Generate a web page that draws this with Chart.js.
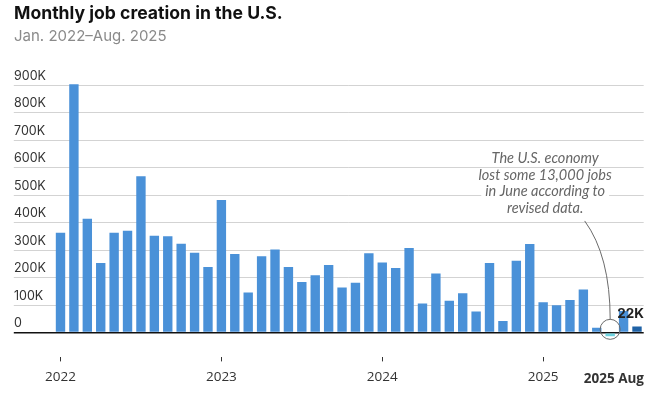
<!DOCTYPE html>
<html>
<head>
<meta charset="utf-8">
<script src="https://cdn.jsdelivr.net/npm/chart.js@4.4.1/dist/chart.umd.min.js"></script>
<style>
  html, body { margin: 0; padding: 0; background: #fff; }
  #wrap { width: 653px; height: 399px; position: relative; }
</style>
</head>
<body>
<div id="wrap"><canvas id="jobsChart"></canvas></div>
<script>
// Monthly change in payrolls, in thousands
const months = [
  'Jan 2022', 'Feb 2022', 'Mar 2022', 'Apr 2022', 'May 2022', 'Jun 2022', 'Jul 2022', 'Aug 2022', 'Sep 2022', 'Oct 2022', 'Nov 2022', 'Dec 2022',
  'Jan 2023', 'Feb 2023', 'Mar 2023', 'Apr 2023', 'May 2023', 'Jun 2023', 'Jul 2023', 'Aug 2023', 'Sep 2023', 'Oct 2023', 'Nov 2023', 'Dec 2023',
  'Jan 2024', 'Feb 2024', 'Mar 2024', 'Apr 2024', 'May 2024', 'Jun 2024', 'Jul 2024', 'Aug 2024', 'Sep 2024', 'Oct 2024', 'Nov 2024', 'Dec 2024',
  'Jan 2025', 'Feb 2025', 'Mar 2025', 'Apr 2025', 'May 2025', 'Jun 2025', 'Jul 2025', 'Aug 2025'
];
const jobsK = [
  363, 903, 414, 253, 363, 370, 568, 352, 350, 323, 290, 239,
  482, 286, 146, 278, 302, 239, 184, 209, 246, 164, 181, 289,
  255, 235, 308, 106, 215, 116, 143, 77, 253, 42, 261, 322,
  110, 100, 119, 157, 18, -13, 79, 22
];
const yTicks = [0, 100, 200, 300, 400, 500, 600, 700, 800, 900];
const noteLines = ['The U.S. economy', 'lost some 13,000 jobs', 'in June according to', 'revised data.'];
const latestLabel = '2025 Aug';
const latestValueLabel = '22K';

const JUNE = months.indexOf('Jun 2025');
const LAST = months.length - 1;

const BLUE = '#4a91d8';
const barColors = jobsK.map((v, i) => i === JUNE ? '#6dd2de' : (i === LAST ? '#1f62a6' : BLUE));

// annotation, the circled June bar and the latest value
const notePlugin = {
  id: 'notes',
  afterDraw(chart) {
    const { ctx } = chart;
    const xs = chart.scales.x, ys = chart.scales.y;
    const xJune = xs.getPixelForValue(JUNE);
    const xLast = xs.getPixelForValue(LAST);
    const y0 = ys.getPixelForValue(0);

    ctx.save();
    // note text with white boxes behind (hides the gridlines)
    ctx.font = 'italic 14.5px Lato';
    ctx.textAlign = 'center';
    ctx.textBaseline = 'alphabetic';
    const cx = xJune - 65;
    const firstBase = ys.getPixelForValue(615000);
    noteLines.forEach((t, i) => {
      const y = firstBase + i * 16.5;
      const w = ctx.measureText(t).width;
      ctx.fillStyle = '#fff';
      ctx.fillRect(cx - w / 2 - 4, y - 11, w + 8, 14);
      ctx.fillStyle = '#666';
      ctx.fillText(t, cx, y);
    });

    // curved leader line down to the circle
    const r = 10;
    const cy = ys.getPixelForValue(12000);
    const startY = firstBase + 3 * 16.5 + 8;
    ctx.strokeStyle = '#6a6a6a';
    ctx.lineWidth = 1;
    ctx.beginPath();
    ctx.moveTo(cx + 39.5, startY);
    ctx.quadraticCurveTo(xJune, startY + 35, xJune, cy - r);
    ctx.stroke();

    ctx.beginPath();
    ctx.arc(xJune, cy, r, 0, Math.PI * 2);
    ctx.stroke();

    // latest value
    ctx.font = 'bold 13.5px Inter';
    ctx.textAlign = 'right';
    ctx.fillStyle = '#222';
    ctx.fillText(latestValueLabel, xLast + 7, y0 - 15);

    // last x label, on the same line as the year labels
    ctx.font = 'bold 13.5px "Open Sans"';
    ctx.fillStyle = '#333';
    ctx.fillText(latestLabel, xLast + 7, y0 + 50);
    ctx.restore();
  }
};

new Chart(document.getElementById('jobsChart'), {
  type: 'bar',
  data: {
    labels: months,
    datasets: [{
      data: jobsK.map(v => v * 1000),
      backgroundColor: barColors,
      borderWidth: 0,
      barPercentage: 0.7,
      categoryPercentage: 1.0
    }]
  },
  options: {
    responsive: true,
    maintainAspectRatio: false,
    animation: false,
    layout: { padding: { left: 14, right: 9.3, top: 0, bottom: 6 } },
    plugins: {
      legend: { display: false },
      tooltip: { enabled: false },
      title: {
        display: true,
        text: 'Monthly job creation in the U.S.',
        align: 'start',
        color: '#111',
        font: { family: 'Inter', size: 17.6, weight: 'bold', lineHeight: 1.2 },
        padding: { top: 3.2, bottom: 3.3 }
      },
      subtitle: {
        display: true,
        text: 'Jan. 2022\u2013Aug. 2025',
        align: 'start',
        color: '#8a8a8a',
        font: { family: 'Inter', size: 15, lineHeight: 1.2 },
        padding: { top: 0, bottom: 33.9 }
      }
    },
    scales: {
      x: {
        offset: true,
        border: { display: false },
        grid: {
          offset: false,
          drawOnChartArea: false,
          tickLength: 4,
          tickColor: c => (c.index % 12 === 0 ? '#333' : 'rgba(0,0,0,0)')
        },
        ticks: {
          autoSkip: false,
          maxRotation: 0,
          padding: 7.7,
          color: '#333',
          font: { family: 'Open Sans', size: 13.5 },
          callback: (v, i) => (i % 12 === 0 && i !== LAST ? months[i].slice(4) : '')
        }
      },
      y: {
        min: -90000,
        max: 920000,
        border: { display: false },
        afterFit: s => { s.width = 39.8; },
        afterBuildTicks: s => {
          s.ticks = yTicks.map(v => ({ value: v * 1000 }));
        },
        grid: {
          tickLength: 40,
          color: c => (c.tick && c.tick.value === 0 ? '#111' : '#d3d3d3'),
          tickColor: c => (c.tick && c.tick.value === 0 ? '#111' : '#d3d3d3'),
          lineWidth: c => (c.tick && c.tick.value === 0 ? 1.6 : 1)
        },
        ticks: {
          crossAlign: 'far',
          labelOffset: -9,
          padding: 0,
          color: '#333',
          font: { family: 'Inter', size: 12.5 },
          callback: v => (v === 0 ? '0' : (v / 1000) + 'K')
        }
      }
    }
  },
  plugins: [notePlugin]
});
</script>
</body>
</html>
